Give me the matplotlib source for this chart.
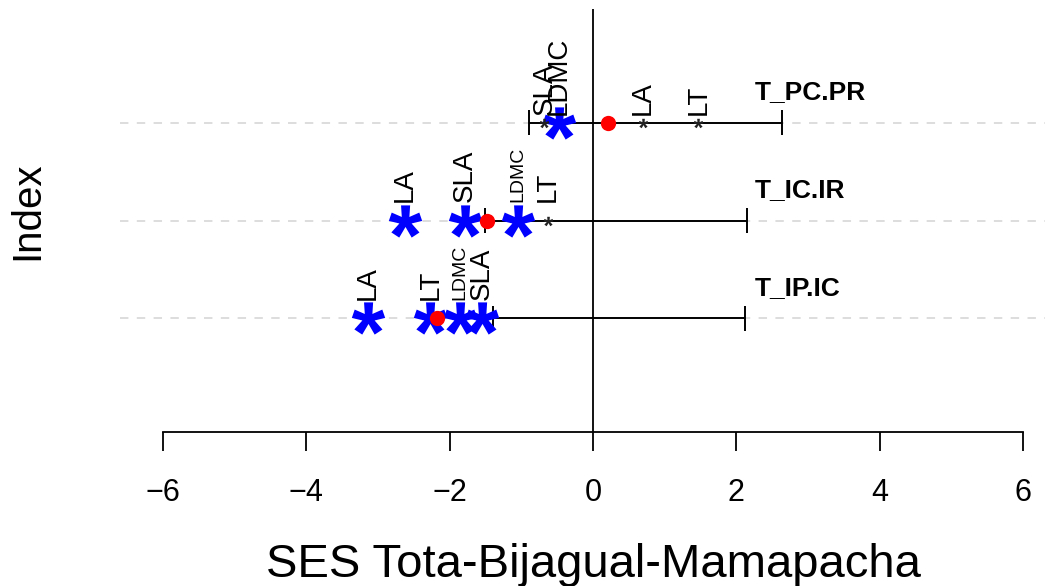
import numpy as np
import matplotlib
matplotlib.use("Agg")
import matplotlib.pyplot as plt
from matplotlib.textpath import TextPath
from matplotlib.font_manager import FontProperties
from matplotlib.path import Path

plt.rcParams["font.family"] = ["Liberation Sans", "DejaVu Sans"]

# SES of each null model, with its 95% interval
groups = ["T_PC.PR", "T_IC.IR", "T_IP.IC"]
rows = [3, 2, 1]
ses_obs = [0.21, -1.48, -2.18]
ci_low = [-0.89, -1.51, -1.40]
ci_high = [2.64, 2.15, 2.12]

# single-trait SES per model (same order as groups)
traits = ["LA", "LDMC", "SLA", "LT"]
trait_ses = [
    [0.70, -0.48, -0.68, 1.47],
    [-2.62, -1.05, -1.79, -0.63],
    [-3.14, -1.86, -1.55, -2.27],
]
trait_signif = [
    [False, True, False, False],
    [True, True, True, False],
    [True, True, True, True],
]
xticks = [-6, -4, -2, 0, 2, 4, 6]

# label layout
label_lift = [0.08, 0.19, 0.19]
label_size = [[20, 20, 20, 20], [20, 14, 20, 20], [20, 14, 20, 20]]

# asterisk glyph as a marker, centred on the point
tp = TextPath((0, 0), "*", size=1, prop=FontProperties(family="Liberation Sans", weight="bold"))
polys = tp.to_polygons()
allv = np.vstack(polys)
ctr = (allv.min(axis=0) + allv.max(axis=0)) / 2
star = Path.make_compound_path(*[Path(p - ctr, closed=True) for p in polys])

fig = plt.figure(figsize=(10.45, 5.86), dpi=100)
ax = fig.add_axes([120 / 1045, 154 / 586, 925 / 1045, 423 / 586])
ax.set_xlim(-6.6, 6.307)
ax.set_ylim(-0.16, 4.16)

rows_a = np.array(rows, dtype=float)
for y in rows:
    ax.axhline(y, color="#d3d3d3", lw=1.1, ls=(0, (5.5, 5.5)), zorder=1)
ax.axvline(0, color="black", lw=1.3, zorder=2)

ax.hlines(rows_a, ci_low, ci_high, color="black", lw=1.4, zorder=3)
ax.vlines(ci_low, rows_a - 0.13, rows_a + 0.13, color="black", lw=1.4, zorder=3)
ax.vlines(ci_high, rows_a - 0.13, rows_a + 0.13, color="black", lw=1.4, zorder=3)

for i, y in enumerate(rows):
    for j, t in enumerate(traits):
        v = trait_ses[i][j]
        if trait_signif[i][j]:
            ax.plot(v, y, marker=star, ms=24, color="blue", mec="none", ls="none", zorder=4)
        else:
            ax.plot(v, y, marker=star, ms=7, color="#222222", mec="none", ls="none", zorder=4)
        ax.text(v, y + label_lift[i], t, rotation=90, ha="center", va="bottom",
                fontsize=label_size[i][j], zorder=5)
    ax.text(2.26, y + 0.31, groups[i], fontweight="bold", fontsize=19,
            ha="left", va="center", zorder=5)

ax.plot(ses_obs, rows, "o", color="red", ms=11, mec="none", ls="none", zorder=6)

for s in ["left", "top", "right"]:
    ax.spines[s].set_visible(False)
ax.spines["bottom"].set_bounds(-6, 6)
ax.spines["bottom"].set_linewidth(1.3)
ax.set_xticks(xticks)
ax.set_xticklabels([str(v).replace("-", "\u2212") for v in xticks])
ax.tick_params(axis="x", length=14, width=1.3, pad=19, labelsize=22)
ax.set_yticks([])

fig.text(593 / 1045, 9 / 586, "SES Tota-Bijagual-Mamapacha", ha="center", va="baseline", fontsize=34)
fig.text(27 / 1045, 1 - 211 / 586, "Index", rotation=90, ha="center", va="center", fontsize=29)

fig.savefig("out.png", dpi=100)
